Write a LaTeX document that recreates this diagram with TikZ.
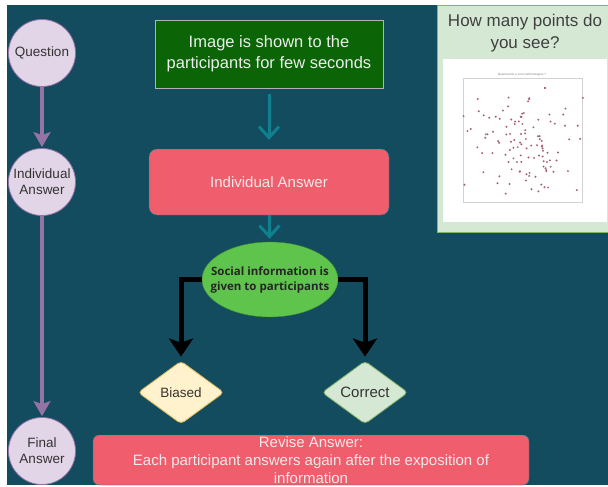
\documentclass[tikz,border=0pt]{standalone}
\usepackage{fontspec}
\setmainfont{Liberation Sans}
\newfontfamily\socfont{Open Sans}
\usepackage{tikz}
\usetikzlibrary{positioning, arrows.meta, shapes.geometric}
\definecolor{bgdark}{HTML}{134B5F}
\definecolor{phasefill}{HTML}{E1D5E7}
\definecolor{phaseline}{HTML}{9673A6}
\definecolor{imggreen}{HTML}{0B6406}
\definecolor{answerred}{HTML}{F05E6D}
\definecolor{tealline}{HTML}{10808E}
\definecolor{socgreen}{HTML}{5EC44C}
\definecolor{biasfill}{HTML}{FFF2CC}
\definecolor{biasline}{HTML}{D6B656}
\definecolor{okfill}{HTML}{D5E8D4}
\definecolor{okline}{HTML}{82B366}
\definecolor{dotcol}{HTML}{A8607E}
\tikzset{
  phase/.style={
    draw=phaseline, fill=phasefill, circle, line width=0.8pt,
    minimum size=67pt, inner sep=0pt, align=center,
    text=black!80, font=\fontsize{13.5}{16}\selectfont
  },
  phasearrow/.style={draw=phaseline, line width=4pt,
    -{Stealth[length=15pt, width=17pt, inset=3pt]}},
  flowarrow/.style={draw=tealline, line width=3pt,
    -{Straight Barb[length=11pt, width=20pt]}},
  branch/.style={draw=black, line width=5pt,
    -{Stealth[length=18pt, width=24pt, inset=4pt]}},
  redbox/.style={
    draw=tealline, fill=answerred, rounded corners=8pt,
    inner sep=0pt, align=center, text=white!92!black,
    font=\fontsize{15}{18}\selectfont
  },
  choice/.style={
    diamond, rounded corners=4pt, line width=0.8pt, inner sep=0pt,
    minimum width=86pt, minimum height=63pt, text=black!80
  },
}

\begin{document}
\begin{tikzpicture}[x=1pt, y=-1pt]
  \useasboundingbox (0,0) rectangle (608,487);
  \fill[bgdark] (7,5) rectangle (608,485);

  \node[phase] (quest) at (42,53)  {Question};
  \node[phase] (indiv) at (42,182) {Individual\\Answer};
  \node[phase] (final) at (42,451) {Final\\Answer};

  \draw[phasearrow, shorten >=1pt] (quest) -- (indiv);
  \draw[phasearrow, shorten >=1pt] (indiv) -- (final);

  \node[draw=gray!60, fill=imggreen, minimum width=228pt, minimum height=68pt,
        inner sep=0pt, align=center, text=white!93!black,
        font=\fontsize{16.5}{21}\selectfont]
                          (image)  at (269,54)  {Image is shown to the\\participants for few seconds};
  \node[redbox, minimum width=240pt, minimum height=66pt]
                          (answer) at (269,182) {Individual Answer};
  \node[ellipse, draw=socgreen!70!black, fill=socgreen, inner sep=0pt,
        minimum width=136pt, minimum height=75pt]
                          (social) at (270,279.5) {};
  \node[align=center, inner sep=0pt, text=black!85,
        font=\socfont\bfseries\fontsize{11.5}{15}\selectfont]
                          (socialtext) at (social.center) {Social information is\\given to participants};

  \draw[flowarrow, shorten <=6pt, shorten >=9pt] (image) -- (answer);
  \draw[flowarrow, shorten >=3pt] (answer) -- (social);

  \node[choice, draw=biasline, fill=biasfill, font=\fontsize{13.5}{16}\selectfont]
                          (biased)  at (181,392.5) {Biased};
  \node[choice, draw=okline, fill=okfill, font=\fontsize{15}{18}\selectfont]
                          (correct) at (365,392.5) {Correct};

  \draw[branch, shorten >=4pt] (social.west) -| (biased.north);
  \draw[branch, shorten >=4pt] (social.east) -| (correct.north);

  \node[redbox, rounded corners=6pt, minimum width=436pt, minimum height=50pt]
                          (revise) at (311,460) {Revise Answer:\\Each participant answers again after the exposition of\\information};

  % image panel on the right
  \node[draw=okline, fill=okfill, minimum width=172pt, minimum height=227pt,
        inner sep=0pt] (panel) at (523,118.5) {};
  \node[align=center, text=black!75, font=\fontsize{17}{21.5}\selectfont]
                          (question) at (525,33) {How many points do\\you see?};
  \node[fill=white, minimum width=164pt, minimum height=163pt, inner sep=0pt]
                          (plot) at (525,140.5) {};
  \draw[gray!35, line width=0.6pt] (463,78) rectangle (582,202);
  \node[font=\fontsize{3}{3}\selectfont, text=gray] (plottitle) at (522,74.5)
    {Quanti punti ci sono nell'immagine ?};
  \pgfmathsetseed{17}
  \foreach \i in {1,...,115}{
    \pgfmathsetmacro\px{522+31*(rand+rand)}
    \pgfmathsetmacro\py{140+32*(rand+rand)}
    \fill[dotcol] (\px,\py) circle (1.1pt);
  }
\end{tikzpicture}
\end{document}
